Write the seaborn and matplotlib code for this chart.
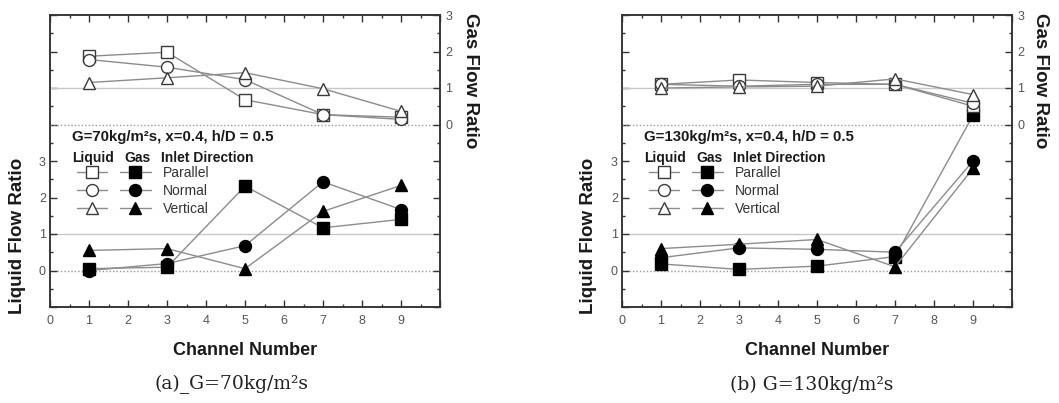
import numpy as np
import pandas as pd
import matplotlib
matplotlib.use("Agg")
import matplotlib.pyplot as plt
from matplotlib.lines import Line2D
from matplotlib.ticker import MultipleLocator, FixedLocator, FuncFormatter
import seaborn as sns

channels = [1, 3, 5, 7, 9]
directions = ["Parallel", "Normal", "Vertical"]

# Panel (a) G=70 : upper group (open markers, right "Gas Flow Ratio" axis)
a_open_parallel = [1.87, 1.98, 0.68, 0.27, 0.20]
a_open_normal   = [1.78, 1.57, 1.23, 0.27, 0.14]
a_open_vertical = [1.15, 1.28, 1.42, 0.98, 0.36]
# Panel (a) lower group (filled markers, left "Liquid Flow Ratio" axis)
a_fill_parallel = [0.05, 0.09, 2.31, 1.17, 1.40]
a_fill_normal   = [0.00, 0.19, 0.68, 2.43, 1.67]
a_fill_vertical = [0.55, 0.60, 0.05, 1.62, 2.33]

# Panel (b) G=130
b_open_parallel = [1.10, 1.22, 1.15, 1.10, 0.50]
b_open_normal   = [1.10, 1.05, 1.10, 1.10, 0.58]
b_open_vertical = [1.00, 1.03, 1.05, 1.25, 0.82]
b_fill_parallel = [0.18, 0.03, 0.12, 0.38, 4.25]
b_fill_normal   = [0.35, 0.62, 0.58, 0.50, 3.00]
b_fill_vertical = [0.60, 0.72, 0.85, 0.10, 2.80]

annotations = ["G=70kg/m\u00b2s, x=0.4, h/D = 0.5", "G=130kg/m\u00b2s, x=0.4, h/D = 0.5"]
captions = ["(a)_G=70kg/m\u00b2s", "(b) G=130kg/m\u00b2s"]

sns.set_style("ticks")
plt.rcParams["font.family"] = ["Liberation Sans", "DejaVu Sans"]

markers = ["s", "o", "^"]
msizes = [8.0, 8.6, 8.8]
line_c = "#8c8c8c"
edge_c = "#3a3a3a"
spine_c = "#333333"
tick_c = "#555555"

fig = plt.figure(figsize=(10.59, 4.03), dpi=100)

panels = [
    (50, [a_open_parallel, a_open_normal, a_open_vertical],
     [a_fill_parallel, a_fill_normal, a_fill_vertical]),
    (622, [b_open_parallel, b_open_normal, b_open_vertical],
     [b_fill_parallel, b_fill_normal, b_fill_vertical]),
]

W, H = 1059, 403
for pi, (left_px, opens, fills) in enumerate(panels):
    ax = fig.add_axes([left_px / W, (H - 307) / H, 390 / W, 292 / H])
    ax2 = ax.twinx()
    ax.set_xlim(0, 10)
    ax.set_ylim(-1, 7)
    ax2.set_ylim(-5, 3)

    # reference lines
    for a_ in (ax, ax2):
        a_.axhline(1, color="#c8c8c8", lw=1.0, zorder=0)
        a_.axhline(0, color="#9a9a9a", lw=1.0, ls=(0, (1, 1.5)), zorder=0)

    for k in range(3):
        df_o = pd.DataFrame({"ch": channels, "v": opens[k]})
        sns.lineplot(data=df_o, x="ch", y="v", ax=ax2, color=line_c, lw=1.0,
                     marker=markers[k], markersize=msizes[k], markerfacecolor="white",
                     markeredgecolor=edge_c, markeredgewidth=1.0, zorder=3)
        df_f = pd.DataFrame({"ch": channels, "v": fills[k]})
        sns.lineplot(data=df_f, x="ch", y="v", ax=ax, color=line_c, lw=1.0,
                     marker=markers[k], markersize=msizes[k], markerfacecolor="black",
                     markeredgecolor="black", markeredgewidth=1.0, zorder=3)

    # ticks
    ax.xaxis.set_major_locator(FixedLocator(range(0, 11)))
    ax.xaxis.set_major_formatter(FuncFormatter(lambda v, p: f"{int(v)}" if v < 9.5 else ""))
    ax.xaxis.set_minor_locator(MultipleLocator(0.5))
    ax.yaxis.set_major_locator(FixedLocator(range(-1, 8)))
    ax.yaxis.set_major_formatter(FuncFormatter(lambda v, p: f"{int(round(v))}" if 0 <= v <= 3 else ""))
    ax.yaxis.set_minor_locator(MultipleLocator(0.5))
    ax2.yaxis.set_major_locator(FixedLocator(range(-5, 4)))
    ax2.yaxis.set_major_formatter(FuncFormatter(lambda v, p: f"{int(round(v))}" if 0 <= v <= 3 else ""))
    ax2.yaxis.set_minor_locator(MultipleLocator(0.5))

    ax.tick_params(axis="both", which="both", direction="in", colors=spine_c,
                   labelcolor=tick_c, labelsize=9, top=True, right=False)
    ax.tick_params(axis="x", which="major", length=5, width=1, pad=6)
    ax.tick_params(axis="y", which="major", length=5, width=1, pad=3)
    ax.tick_params(which="minor", length=2.5, width=1)
    ax2.tick_params(axis="y", which="both", direction="in", colors=spine_c,
                    labelcolor=tick_c, labelsize=9)
    ax2.tick_params(axis="y", which="major", length=5, width=1, pad=4)
    ax2.tick_params(axis="y", which="minor", length=2.5, width=1)

    for a_ in (ax, ax2):
        for s in a_.spines.values():
            s.set_visible(True)
            s.set_color(spine_c)
            s.set_linewidth(1.1)

    ax.set_xlabel("Channel Number", fontsize=13, fontweight="bold", color="#1a1a1a")
    ax.xaxis.set_label_coords(0.5, -0.12)
    ax.set_ylabel("Liquid Flow Ratio", fontsize=13.5, fontweight="bold", color="#1a1a1a", va="center")
    ax.yaxis.set_label_coords(-0.083 if pi == 0 else -0.087, 0.243)
    ax2.set_ylabel("Gas Flow Ratio", fontsize=13.5, fontweight="bold", color="#1a1a1a",
                   rotation=270, va="center")
    ax2.yaxis.set_label_coords(1.077 if pi == 0 else 1.072, 0.774)

    ax.text(0.056, 0.582, annotations[pi], transform=ax.transAxes, fontsize=10.8,
            fontweight="bold", color="#1a1a1a", va="center", ha="left")
    hy = 0.51
    ax.text(0.056, hy, "Liquid", transform=ax.transAxes, fontsize=10, fontweight="bold",
            color="#1a1a1a", va="center")
    ax.text(0.19, hy, "Gas", transform=ax.transAxes, fontsize=10, fontweight="bold",
            color="#1a1a1a", va="center")
    ax.text(0.285, hy, "Inlet Direction", transform=ax.transAxes, fontsize=10,
            fontweight="bold", color="#1a1a1a", va="center")

    handles, labels = [], []
    for k in range(3):
        handles.append(Line2D([], [], color=line_c, lw=1.0, marker=markers[k], markersize=msizes[k],
                              markerfacecolor="white", markeredgecolor=edge_c))
        labels.append("")
    for k in range(3):
        handles.append(Line2D([], [], color=line_c, lw=1.0, marker=markers[k], markersize=msizes[k],
                              markerfacecolor="black", markeredgecolor="black"))
        labels.append(directions[k])
    leg = ax.legend(handles, labels, ncol=2, loc="upper left", bbox_to_anchor=(0.069, 0.483),
                    frameon=False, fontsize=10, borderpad=0, borderaxespad=0,
                    handlelength=2.2, handletextpad=0.9, columnspacing=0.0,
                    labelspacing=0.3, labelcolor="#333333")

fig.text(232 / W, 0.045, captions[0], ha="center", va="center", fontsize=13.5,
         family=["DejaVu Serif"], color="#222222")
fig.text(812 / W, 0.045, captions[1], ha="center", va="center", fontsize=13.5,
         family=["DejaVu Serif"], color="#222222")

fig.savefig("out.png", dpi=100)
